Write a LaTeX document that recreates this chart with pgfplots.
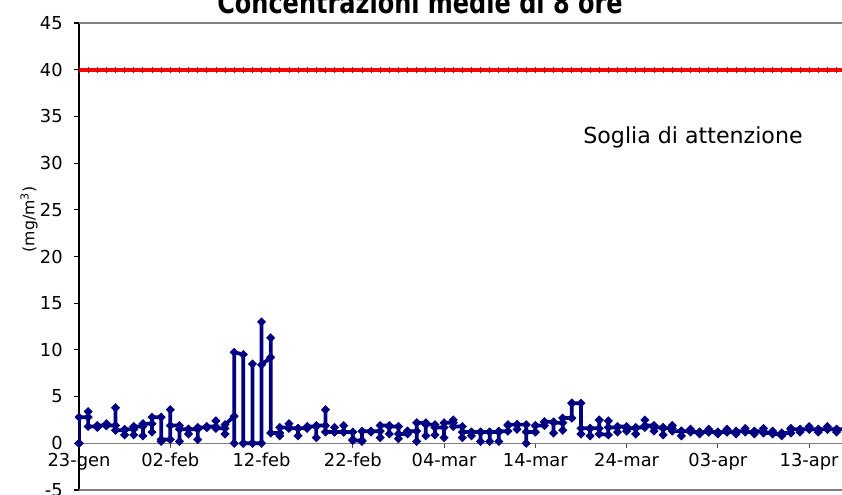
\documentclass[border=0pt]{standalone}
\usepackage{fontspec}
\setmainfont{DejaVu Sans}
\usepackage{pgfplots}
\pgfplotsset{compat=1.18}
\usetikzlibrary{calc}
\definecolor{navyline}{RGB}{0,0,128}
\definecolor{redline}{RGB}{255,0,0}
\definecolor{frame}{RGB}{128,128,128}

\begin{document}
\begin{tikzpicture}
\begin{axis}[
  at={(0,0)}, anchor=south west,
  scale only axis, width=572.25pt, height=350.25pt,
  xmin=0, xmax=83.6, ymin=-5, ymax=45,
  axis x line=middle, axis y line=left,
  axis line style={-},
  x axis line style={draw=frame, line width=1pt},
  y axis line style={draw=black, line width=0.8pt},
  hide obscured x ticks=false, hide obscured y ticks=false,
  tick align=outside, major tick length=3.75pt,
  xtick={0,10,...,80},
  xticklabels={23-gen,02-feb,12-feb,22-feb,04-mar,14-mar,24-mar,03-apr,13-apr},
  ytick={-5,0,...,45},
  x tick style={draw=frame!60!black, line width=0.8pt},
  y tick style={draw=black, line width=0.8pt},
  tick label style={font=\fontsize{13.4}{16}\selectfont},
  /pgf/number format/assume math mode=true,
  xticklabel style={anchor=north},
  yticklabel style={anchor=east, xshift=-5pt},
]
% soglia di attenzione, un punto al giorno
\addplot[redline, line width=2.9pt, mark=|, mark size=2.1pt,
  mark options={draw=red!70!black, line width=0.6pt}] coordinates {
(0,40) (1,40) (2,40) (3,40) (4,40) (5,40) (6,40) (7,40) (8,40) (9,40)
(10,40) (11,40) (12,40) (13,40) (14,40) (15,40) (16,40) (17,40) (18,40) (19,40)
(20,40) (21,40) (22,40) (23,40) (24,40) (25,40) (26,40) (27,40) (28,40) (29,40)
(30,40) (31,40) (32,40) (33,40) (34,40) (35,40) (36,40) (37,40) (38,40) (39,40)
(40,40) (41,40) (42,40) (43,40) (44,40) (45,40) (46,40) (47,40) (48,40) (49,40)
(50,40) (51,40) (52,40) (53,40) (54,40) (55,40) (56,40) (57,40) (58,40) (59,40)
(60,40) (61,40) (62,40) (63,40) (64,40) (65,40) (66,40) (67,40) (68,40) (69,40)
(70,40) (71,40) (72,40) (73,40) (74,40) (75,40) (76,40) (77,40) (78,40) (79,40)
(80,40) (81,40) (82,40) (83,40) (84,40)
};
% medie di 8 ore: tre valori per giorno
\addplot[navyline, line width=2.8pt, mark=*, mark size=1.45pt] coordinates {
(0,0) (0,0) (0,2.8)
(1,2.8) (1,3.4) (1,1.8)
(2,1.8) (2,1.7) (2,1.9)
(3,1.9) (3,2.1) (3,1.9)
(4,1.9) (4,3.8) (4,1.4)
(5,1.4) (5,0.9) (5,1.5)
(6,1.5) (6,0.9) (6,1.8)
(7,1.8) (7,0.8) (7,2.1)
(8,2.1) (8,1.2) (8,2.8)
(9,2.8) (9,0.2) (9,0.4)
(10,0.4) (10,3.6) (10,1.9)
(11,1.9) (11,0.2) (11,1.5)
(12,1.5) (12,1.0) (12,1.5)
(13,1.5) (13,0.4) (13,1.7)
(14,1.7) (14,1.7) (14,1.8)
(15,1.8) (15,2.4) (15,1.6)
(16,1.6) (16,1.0) (16,2.0)
(17,2.9) (17,0) (17,9.75)
(18,9.5) (18,0) (18,0)
(19,0) (19,8.5) (19,0)
(20,0) (20,13.0) (20,8.4)
(21,9.2) (21,11.3) (21,1.1)
(22,1.1) (22,0.8) (22,1.7)
(23,1.7) (23,2.1) (23,1.6)
(24,1.6) (24,0.8) (24,1.6)
(25,1.6) (25,1.7) (25,1.8)
(26,1.8) (26,0.6) (26,1.9)
(27,1.9) (27,3.6) (27,1.2)
(28,1.2) (28,1.7) (28,1.2)
(29,1.2) (29,1.9) (29,1.2)
(30,1.2) (30,0.4) (30,0.3)
(31,0.3) (31,0.2) (31,1.3)
(32,1.3) (32,1.2) (32,1.3)
(33,1.3) (33,0.6) (33,1.9)
(34,1.9) (34,1.0) (34,1.8)
(35,1.8) (35,0.5) (35,1.0)
(36,1.0) (36,1.3) (36,1.3)
(37,1.3) (37,0.2) (37,2.2)
(38,2.2) (38,0.8) (38,2.0)
(39,2.0) (39,0.9) (39,1.7)
(40,1.7) (40,0.6) (40,2.2)
(41,2.2) (41,2.5) (41,1.8)
(42,1.8) (42,0.6) (42,1.2)
(43,1.2) (43,0.8) (43,1.2)
(44,1.2) (44,0.2) (44,1.2)
(45,1.2) (45,0.2) (45,1.2)
(46,1.2) (46,0.2) (46,1.3)
(47,1.3) (47,1.9) (47,2.0)
(48,2.0) (48,1.5) (48,2.0)
(49,2.0) (49,0.0) (49,1.2)
(50,1.2) (50,1.9) (50,1.9)
(51,1.9) (51,2.3) (51,2.3)
(52,2.3) (52,1.1) (52,2.2)
(53,2.2) (53,1.4) (53,2.7)
(54,2.7) (54,4.3) (54,4.3)
(55,4.3) (55,1.0) (55,1.6)
(56,1.6) (56,0.8) (56,1.6)
(57,1.6) (57,2.5) (57,1.0)
(58,0.9) (58,2.4) (58,1.7)
(59,1.7) (59,1.2) (59,1.8)
(60,1.8) (60,1.3) (60,1.6)
(61,1.6) (61,1.0) (61,1.7)
(62,1.7) (62,2.5) (62,1.9)
(63,1.9) (63,1.3) (63,1.7)
(64,1.7) (64,0.9) (64,1.6)
(65,1.6) (65,1.9) (65,1.3)
(66,1.3) (66,0.8) (66,1.3)
(67,1.3) (67,1.5) (67,1.2)
(68,1.2) (68,1.0) (68,1.2)
(69,1.2) (69,1.5) (69,1.2)
(70,1.2) (70,1.0) (70,1.2)
(71,1.2) (71,1.5) (71,1.2)
(72,1.2) (72,1.0) (72,1.3)
(73,1.3) (73,1.6) (73,1.2)
(74,1.2) (74,1.0) (74,1.3)
(75,1.3) (75,1.6) (75,1.1)
(76,1.1) (76,1.3) (76,1.0)
(77,1.0) (77,0.8) (77,1.1)
(78,1.1) (78,1.6) (78,1.5)
(79,1.5) (79,1.2) (79,1.5)
(80,1.5) (80,1.8) (80,1.5)
(81,1.5) (81,1.2) (81,1.5)
(82,1.5) (82,1.8) (82,1.5)
(83,1.5) (83,1.2) (83,1.5)
(84,1.5)
};
\end{axis}
\draw[frame, line width=1.1pt] (current axis.north west) -- (current axis.north east);
\draw[frame, line width=1.1pt] (current axis.south west) -- (current axis.south east);
\node[font=\bfseries\fontsize{18}{20}\selectfont, anchor=base]
  at ($(current axis.south west)+(255.75pt,357pt)$) {\scalebox{1}[1.25]{Concentrazioni medie di 8 ore}};
\node[font=\fontsize{11.8}{14}\selectfont, rotate=90]
  at ($(current axis.south west)+(-37.5pt,203pt)$) {(mg/m\textsuperscript{3})};
\node[font=\fontsize{16.6}{19}\selectfont]
  at ($(current axis.south west)+(460.5pt,264.75pt)$) {Soglia di attenzione};
\pgfresetboundingbox
\useasboundingbox ($(current axis.south west)+(-59.25pt,-3pt)$) rectangle ($(current axis.south west)+(572.25pt,367.5pt)$);
\end{tikzpicture}
\end{document}
